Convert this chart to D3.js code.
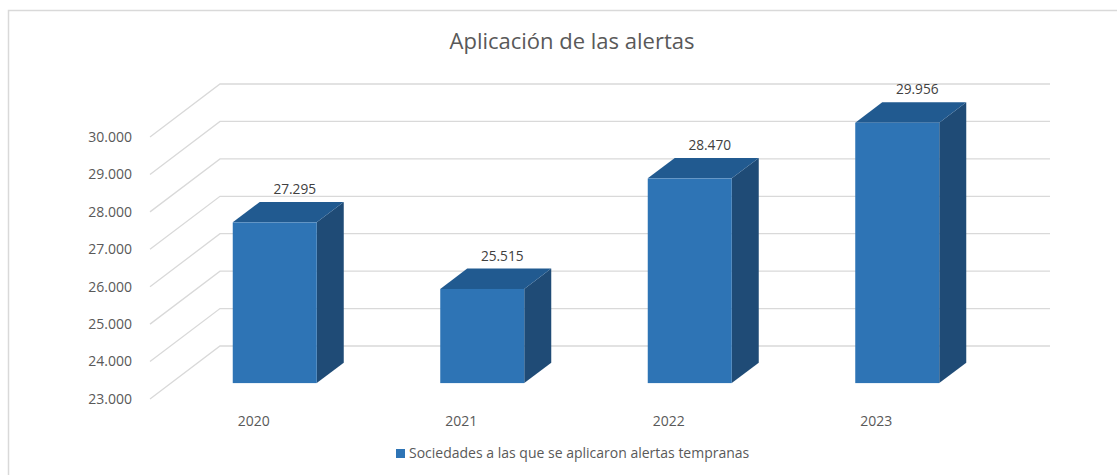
<!DOCTYPE html>
<html>
<head>
<meta charset="utf-8">
<script src="https://cdn.jsdelivr.net/npm/d3@7"></script>
<style>
  html, body { margin: 0; padding: 0; background: #fff; }
  svg { display: block; font-family: "Open Sans", "Noto Sans", sans-serif; }
</style>
</head>
<body>
<svg id="chart" width="1117" height="475"></svg>
<script>
const categories = ["2020", "2021", "2022", "2023"];
const values = [27295, 25515, 28470, 29956];
const yTicks = [23000, 24000, 25000, 26000, 27000, 28000, 29000, 30000];
const title = "Aplicación de las alertas";
const seriesName = "Sociedades a las que se aplicaron alertas tempranas";

const svg = d3.select("#chart");
const W = 1117, H = 475;

// frame (only top and left edges visible in the crop)
svg.append("rect").attr("x", 8.5).attr("y", 10.5).attr("width", W + 20).attr("height", H + 20)
  .attr("fill", "#fff").attr("stroke", "#d9d9d9").attr("stroke-width", 1.5);

// oblique 3D projection: depth z in [0,1]
const depthDX = 70, depthDY = -53;
const off = z => [depthDX * z, depthDY * z];

const x = d3.scaleBand().domain(categories).range([150, 980]);
const y = d3.scaleLinear().domain([23000, 30000]).range([399, 137]);
const fmt = d3.formatLocale({ decimal: ",", thousands: ".", grouping: [3], currency: ["", "€"] }).format(",d");

// gridlines: side wall diagonal + back wall horizontal
const grid = svg.append("g").attr("fill", "none").attr("stroke", "#d9d9d9").attr("stroke-width", 1.3);
yTicks.forEach(t => {
  const [bx, by] = off(1);
  grid.append("path").attr("d",
    `M${x.range()[0]},${y(t)} L${x.range()[0] + bx},${y(t) + by} L${x.range()[1] + bx},${y(t) + by}`);
});

// y axis labels
svg.append("g").selectAll("text").data(yTicks).join("text")
  .attr("x", 132).attr("y", d => y(d)).attr("dy", "0.35em")
  .attr("text-anchor", "end").attr("font-size", 14).attr("fill", "#595959")
  .text(d => fmt(d));

// bars
const barW = 84, z0 = 0.3, z1 = 0.3 + 27 / 70;
const colFront = "#2e74b5", colTop = "#215a90", colSide = "#1f4b76";
const bars = svg.append("g");
categories.forEach((c, i) => {
  const v = values[i];
  const cx = x(c) + x.bandwidth() / 2;
  const [fx, fy] = off(z0), [kx, ky] = off(z1);
  const xl = cx - barW / 2, xr = cx + barW / 2;
  const yb = y(23000), yt = y(v);
  const g = bars.append("g");
  // side face
  g.append("path").attr("fill", colSide).attr("d",
    `M${xr + fx},${yt + fy} L${xr + kx},${yt + ky} L${xr + kx},${yb + ky} L${xr + fx},${yb + fy} Z`);
  // top face
  g.append("path").attr("fill", colTop).attr("d",
    `M${xl + fx},${yt + fy} L${xl + kx},${yt + ky} L${xr + kx},${yt + ky} L${xr + fx},${yt + fy} Z`);
  // front face
  g.append("rect").attr("fill", colFront)
    .attr("x", xl + fx).attr("y", yt + fy).attr("width", barW).attr("height", yb - yt);
  // value label
  svg.append("text").attr("x", cx + fx + 20).attr("y", yt + ky - 8)
    .attr("text-anchor", "middle").attr("font-size", 13.7).attr("fill", "#404040")
    .text(fmt(v));
});

// category labels
svg.append("g").selectAll("text").data(categories).join("text")
  .attr("x", d => x(d) + x.bandwidth() / 2).attr("y", 426)
  .attr("text-anchor", "middle").attr("font-size", 14).attr("fill", "#595959")
  .text(d => d);

// title
svg.append("text").attr("x", 572).attr("y", 49).attr("text-anchor", "middle")
  .attr("font-size", 22).attr("fill", "#595959").text(title);

// legend
const lg = svg.append("g");
lg.append("rect").attr("x", 396).attr("y", 449).attr("width", 9).attr("height", 9).attr("fill", colFront);
lg.append("text").attr("x", 409).attr("y", 453.5).attr("dy", "0.35em")
  .attr("font-size", 14).attr("fill", "#595959").text(seriesName);
</script>
</body>
</html>
